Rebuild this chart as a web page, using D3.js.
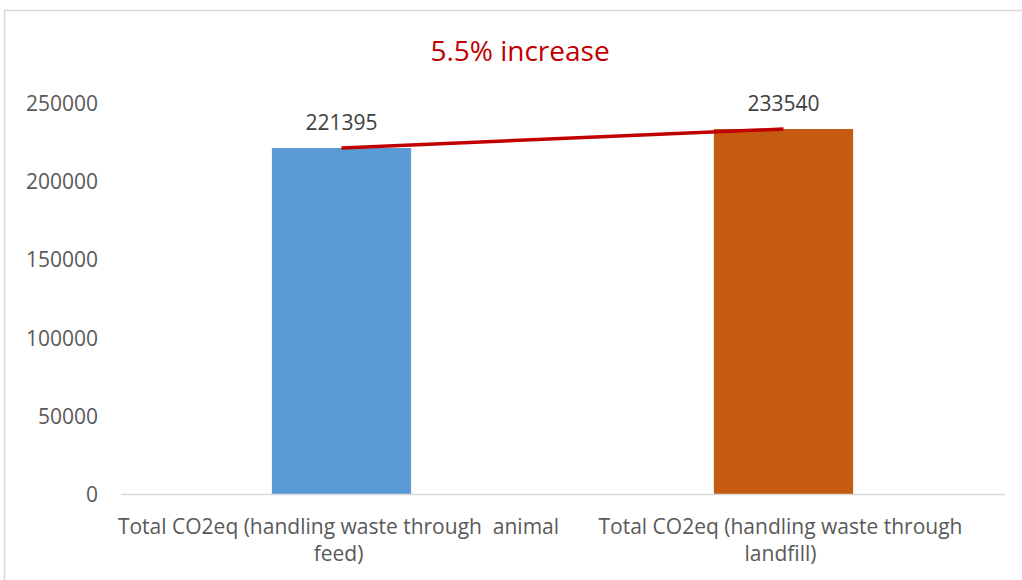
<!DOCTYPE html>
<html>
<head>
<meta charset="utf-8">
<script src="https://cdn.jsdelivr.net/npm/d3@7"></script>
<style>
  html, body { margin: 0; padding: 0; background: #ffffff; }
  svg { display: block; }
</style>
</head>
<body>
<svg id="chart" width="1022" height="580"></svg>
<script>
// Data
const categories = [
  ["Total CO2eq (handling waste through  animal", "feed)"],
  ["Total CO2eq (handling waste through", "landfill)"]
];
const values = [221395, 233540];
const yTicks = [0, 50000, 100000, 150000, 200000, 250000];
const title = "5.5% increase";
const barColors = ["#5b9bd5", "#c55a11"];

const svg = d3.select("#chart");
const font = "'Open Sans', sans-serif";

// Outer frame
svg.append("rect")
  .attr("x", 4.5).attr("y", 10.5)
  .attr("width", 1040).attr("height", 600)
  .attr("fill", "none")
  .attr("stroke", "#d9d9d9")
  .attr("stroke-width", 1.5);

const x = d3.scaleBand()
  .domain(d3.range(categories.length))
  .range([120.5, 1004.5])
  .paddingInner(0.685)
  .paddingOuter(0.3425);

const y = d3.scaleLinear()
  .domain([0, 250000])
  .range([494, 103.3]);

// Title
svg.append("text")
  .attr("x", 520).attr("y", 61)
  .attr("text-anchor", "middle")
  .attr("font-family", font)
  .attr("font-size", 28)
  .attr("fill", "#c00000")
  .text(title);

// Y axis labels
const yAxis = d3.axisLeft(y).tickValues(yTicks).tickSize(0).tickPadding(0).tickFormat(d3.format("d"));
const gy = svg.append("g").attr("transform", "translate(98,0)").call(yAxis);
gy.select(".domain").remove();
gy.selectAll("text")
  .attr("font-family", font)
  .attr("font-size", 21)
  .attr("fill", "#595959")
  .attr("dy", "0.35em");

// Bars
svg.selectAll("rect.bar")
  .data(values)
  .enter().append("rect")
  .attr("class", "bar")
  .attr("x", (d, i) => x(i))
  .attr("y", d => y(d))
  .attr("width", x.bandwidth())
  .attr("height", d => y(0) - y(d))
  .attr("fill", (d, i) => barColors[i]);

// Category axis
const xAxis = d3.axisBottom(x).tickSize(0).tickFormat("");
const gx = svg.append("g").attr("transform", `translate(0,${y(0)})`).call(xAxis);
gx.select(".domain").attr("stroke", "#d9d9d9").attr("stroke-width", 1.5);

const labelG = svg.append("g");
categories.forEach((lines, i) => {
  const cx = x(i) + x.bandwidth() / 2;
  const t = labelG.append("text")
    .attr("text-anchor", "middle")
    .attr("font-family", font)
    .attr("font-size", 21)
    .attr("fill", "#595959");
  lines.forEach((ln, j) => {
    t.append("tspan")
      .attr("x", cx - 3)
      .attr("y", 534 + j * 27)
      .attr("xml:space", "preserve")
      .style("white-space", "pre")
      .text(ln);
  });
});

// Connecting line between bar tops
const line = d3.line()
  .x((d, i) => x(i) + x.bandwidth() / 2)
  .y(d => y(d));
svg.append("path")
  .datum(values)
  .attr("d", line)
  .attr("fill", "none")
  .attr("stroke", "#c00000")
  .attr("stroke-width", 3.5);

// Value labels
svg.selectAll("text.val")
  .data(values)
  .enter().append("text")
  .attr("class", "val")
  .attr("x", (d, i) => x(i) + x.bandwidth() / 2)
  .attr("y", d => y(d) - 18)
  .attr("text-anchor", "middle")
  .attr("font-family", font)
  .attr("font-size", 21)
  .attr("fill", "#404040")
  .text(d => d);
</script>
</body>
</html>
